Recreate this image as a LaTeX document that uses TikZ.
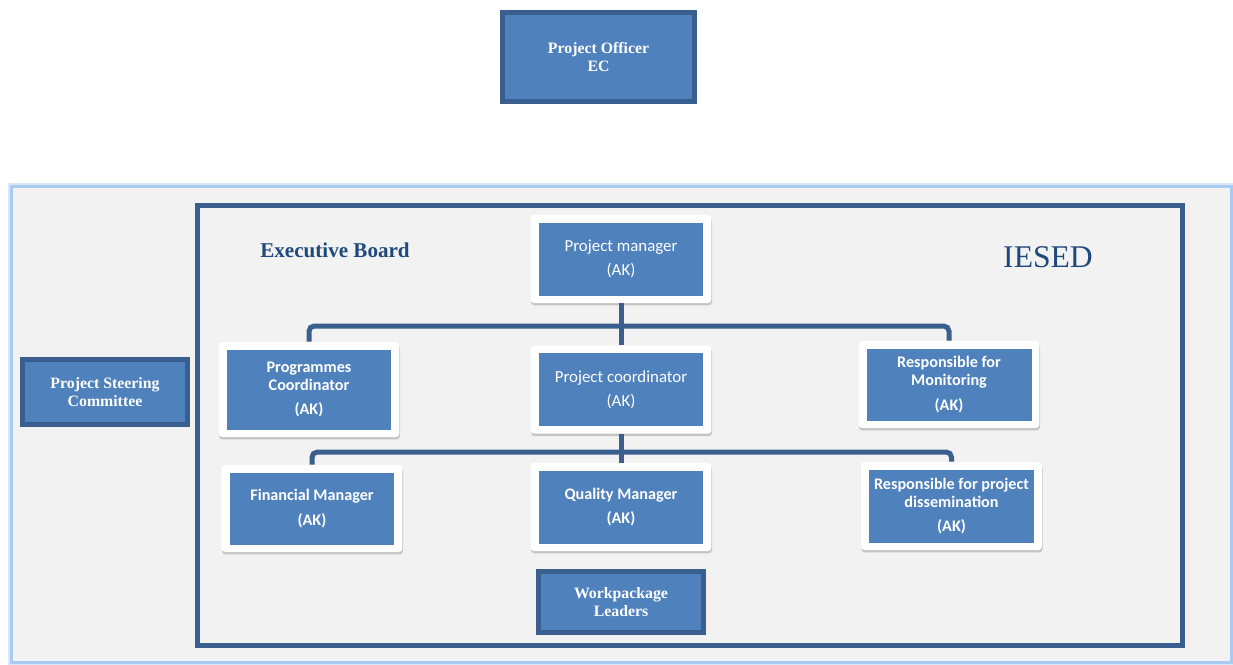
\documentclass[tikz,border=0pt]{standalone}
\usepackage{fontspec}
\setmainfont{Liberation Serif}
\newfontfamily\calibri{Carlito}
\usepackage{xcolor}
\usepackage{tikz}
\usetikzlibrary{positioning, shadows}

\definecolor{boxblue}{HTML}{4F81BD}
\definecolor{darkblue}{HTML}{3A5F8E}
\definecolor{titleblue}{HTML}{1F497D}
\definecolor{panelgray}{HTML}{F2F2F2}
\definecolor{glowblue}{HTML}{A9CBF2}

\begin{document}
\begin{tikzpicture}[
    x=0.02cm, y=-0.02cm,
    role/.style={rectangle, fill=white, rounded corners=2pt, inner sep=0pt, minimum width=3.62cm, minimum height=1.76cm, align=center, text=white, font=\calibri\bfseries\fontsize{9.2}{10.3}\selectfont,
        drop shadow={shadow xshift=0.3pt, shadow yshift=-1.4pt, opacity=0.4},
        path picture={\fill[boxblue, sharp corners] ([shift={(0.16cm,0.15cm)}]path picture bounding box.south west) rectangle ([shift={(-0.16cm,-0.15cm)}]path picture bounding box.north east);}},
    plainrole/.style={role, font=\calibri\fontsize{9.6}{10.3}\selectfont},
    unit/.style={rectangle, draw=darkblue, line width=0.1cm, fill=boxblue, inner sep=0pt, align=center, text=white, font=\bfseries\fontsize{9}{10.5}\selectfont},
    link/.style={draw=darkblue, line width=0.1cm, rounded corners=3pt},
    heading/.style={text=titleblue, font=\bfseries\fontsize{12}{14}\selectfont}
]
\useasboundingbox (0,0) rectangle (1233,664);

% EC side
\node[unit, minimum width=3.84cm, minimum height=1.78cm] (officer) at (598.5,57) {Project Officer\\EC};

% IESED panel and executive board frame
\draw[glowblue!45, line width=0.14cm] (11.5,186.5) rectangle (1231.5,662.5);
\draw[glowblue, line width=0.06cm, fill=panelgray] (11.5,186.5) rectangle (1231.5,662.5);
\draw[darkblue, line width=0.1cm] (197.5,205.5) rectangle (1182.5,645.5);

\node[heading] (board) at (335,250) {Executive Board};
\node[text=titleblue, font=\fontsize{18}{20}\selectfont] (iesed) at (1048,257) {IESED};

% Level 1
\node[plainrole] (pm) at (621,259) {Project manager\\[3.5pt](AK)};

% Level 2
\node[plainrole, below=0.84cm of pm] (pc) {Project coordinator\\[3.5pt](AK)};
\node[role, minimum height=1.9cm] (progc) at (309,389.5) {Programmes\\Coordinator\\[3.5pt](AK)};
\node[role, minimum height=1.74cm] (mon) at (949,384.5) {Responsible for\\Monitoring\\[3.5pt](AK)};

% Level 3
\node[role, minimum height=1.74cm] (fm) at (312,508.5) {Financial Manager\\[3.5pt](AK)};
\node[role] (qm) at (621,507) {Quality Manager\\[3.5pt](AK)};
\node[role] (rd) at (951.5,506) {Responsible for project\\dissemination\\[3.5pt](AK)};

\node[unit, minimum width=3.3cm, minimum height=1.22cm, below=0.35cm of qm] (wp) {Workpackage\\Leaders};
\node[unit, minimum width=3.3cm, minimum height=1.3cm] (psc) at (105,392) {Project Steering\\Committee};

% Connectors
\coordinate (bus1) at (621,326);
\coordinate (bus2) at (621,452);
\draw[link] (pm) -- (pc);
\draw[link] (progc.north) |- (bus1 -| mon.north) -- (mon.north);
\draw[link] (pc) -- (qm);
\draw[link] (fm.north) |- (bus2 -| rd.north) -- (rd.north);

\end{tikzpicture}
\end{document}
